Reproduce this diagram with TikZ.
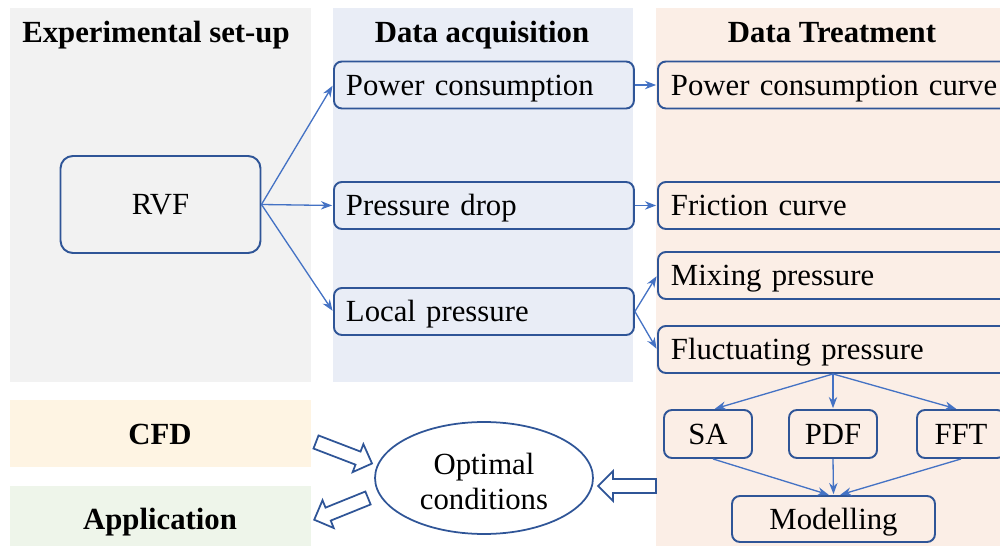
\documentclass[tikz,border=0pt]{standalone}
\usepackage{fontspec}
\setmainfont{Liberation Serif}
\usepackage{tikz}
\usetikzlibrary{arrows.meta,shapes,positioning}
\usetikzlibrary{calc}

\definecolor{boxblue}{HTML}{2F5597}
\definecolor{linkblue}{HTML}{4472C4}
\definecolor{setupgray}{HTML}{F2F2F2}
\definecolor{acqblue}{HTML}{E9EDF6}
\definecolor{treatorange}{HTML}{FBEEE6}
\definecolor{cfdyellow}{HTML}{FEF4E3}
\definecolor{appgreen}{HTML}{EEF5EA}

\newcommand{\drawHollowArrow}[3]{
    \begin{scope}[shift={(#1)},rotate=#2]
        \draw[draw=boxblue,fill=white,line width=1pt,line join=miter]
            (0,7) -- (#3-15,7) -- (#3-15,15) -- (#3,0) -- (#3-15,-15) -- (#3-15,-7) -- (0,-7) -- cycle;
    \end{scope}
}

\begin{document}
\begin{tikzpicture}[x=0.02cm,y=-0.02cm,>=Stealth,
    every node/.style={font=\fontsize{17.5}{20}\selectfont},
    head/.style={font=\fontsize{17.5}{20}\selectfont\bfseries,anchor=base},
    box/.style={draw=boxblue,line width=1.1pt,rounded corners=4.5pt,minimum height=0.94cm,inner ysep=0pt,
        text height=0.44cm,text depth=0.02cm},
    acqbox/.style={box,anchor=west,text width=5.52cm,inner xsep=0.24cm},
    treatbox/.style={box,anchor=west,text width=6.9cm,inner xsep=0.26cm},
    smallbox/.style={box,minimum width=1.76cm,minimum height=0.96cm},
    link/.style={->,draw=linkblue,line width=0.75pt,shorten >=0.5pt}]
            \useasboundingbox (0,0) rectangle (1000,546);

            % --- Panels ---
            \fill[setupgray] (10,8) rectangle (311,382);
            \fill[acqblue] (333,8) rectangle (633,382);
            \fill[treatorange] (656,8) rectangle (1010,546);
            \fill[cfdyellow] (10,400) rectangle (311,467);
            \fill[appgreen] (10,486) rectangle (311,546);

            \node[head] (hsetup) at (156,43) {Experimental set-up};
            \node[head] (hacq) at (482,43) {Data acquisition};
            \node[head] (htreat) at (832,43) {Data Treatment};
            \node[head] (cfd) at (160,445) {CFD};
            \node[head] (app) at (160,530) {Application};

            % --- Set-up ---
            \node[box,rounded corners=7pt,minimum width=4cm,minimum height=1.94cm] (rvf) at (160.5,204.5) {RVF};

            % --- Acquisition ---
            \node[acqbox] (power) at (333,85) {Power consumption};
            \node[acqbox] (drop) at (333,205.5) {Pressure drop};
            \node[acqbox] (local) at (333,311.5) {Local pressure};

            % --- Treatment ---
            \node[treatbox] (curve) at (657,85) {Power consumption curve};
            \node[treatbox] (friction) at (657,205.5) {Friction curve};
            \node[treatbox] (mixing) at (657,275.5) {Mixing pressure};
            \node[treatbox] (fluct) at (657,349.5) {Fluctuating pressure};

            \node[smallbox] (sa) at (708,434) {SA};
            \node[smallbox] (pdf) at (833,434) {PDF};
            \node[smallbox] (fft) at (961,434) {FFT};
            \node[box,minimum width=4.06cm,minimum height=0.92cm] (model) at (833.5,519) {Modelling};

            % Optimal conditions
            \node[ellipse,draw=boxblue,line width=1pt,minimum width=4.36cm,minimum height=2.24cm,inner sep=0pt,
                align=center,text height=1.28cm] (optimal) at (484,478) {Optimal\\conditions};

            % --- Links ---
            \draw[link] (rvf.east) -- (power.west);
            \draw[link] (rvf.east) -- (drop.west);
            \draw[link] (rvf.east) -- (local.west);

            \draw[link] (power.east) -- (curve.west);
            \draw[link] (drop.east) -- (friction.west);
            \draw[link] (local.east) -- (mixing.west);
            \draw[link] (local.east) -- (fluct.west);

            \coordinate (fork) at (fluct.south -| pdf.north);
            \draw[link] (fork) -- ($(sa.north)+(6,0)$);
            \draw[link] (fork) -- (pdf.north);
            \draw[link] (fork) -- ($(fft.north)+(-4,0)$);

            \draw[link] ($(sa.south)+(5,0)$) -- ($(model.north)+(-4,0)$);
            \draw[link] (pdf.south) -- (model.north);
            \draw[link] (fft.south) -- ($(model.north)+(6,0)$);

            % Hollow arrows
            \coordinate (cfdtail) at (316,442);
            \coordinate (apptail) at (368,498);
            \coordinate (treattail) at (656,486);
            \drawHollowArrow{cfdtail}{-21}{60}
            \drawHollowArrow{apptail}{-158}{58}
            \drawHollowArrow{treattail}{180}{58}

        \end{tikzpicture}
\end{document}
